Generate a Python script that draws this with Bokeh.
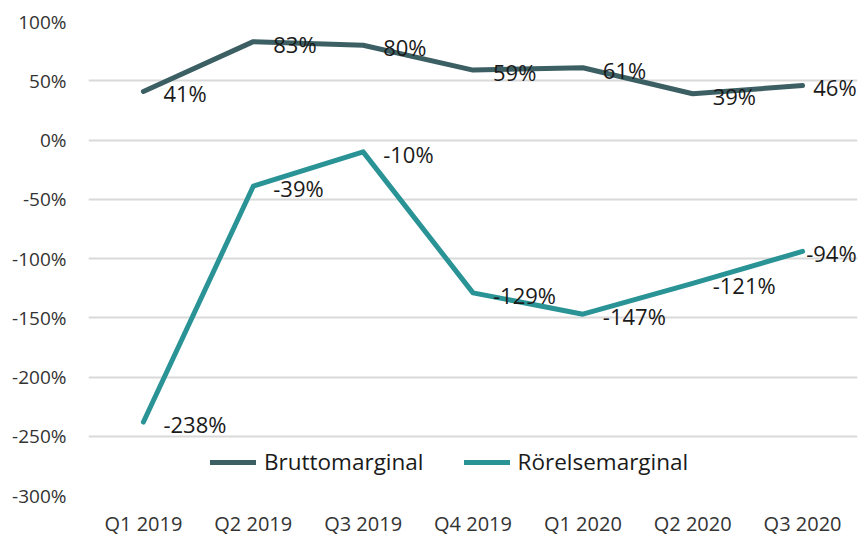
from bokeh.plotting import figure
from bokeh.models import (ColumnDataSource, Range1d, FactorRange, LabelSet,
                          Legend, LegendItem, FixedTicker, CustomJSTickFormatter)
from bokeh.core.properties import value
from bokeh.embed import file_html
from bokeh.resources import INLINE

quarters = ["Q1 2019", "Q2 2019", "Q3 2019", "Q4 2019", "Q1 2020", "Q2 2020", "Q3 2020"]
brutto = [41, 83, 80, 59, 61, 39, 46]
rorelse = [-238, -39, -10, -129, -147, -121, -94]
y_ticks = [100, 50, 0, -50, -100, -150, -200, -250, -300]

FONT = "Open Sans"
C_BRUTTO = "#3C5F63"
C_ROR = "#2A9396"

p = figure(x_range=FactorRange(*quarters), y_range=Range1d(-300, 100),
           width=859, height=539, output_backend="svg", toolbar_location=None,
           min_border_left=88, min_border_right=2, min_border_top=21, min_border_bottom=41)
p.outline_line_color = None
p.background_fill_color = "white"
p.border_fill_color = "white"

rb = p.line(quarters, brutto, line_color=C_BRUTTO, line_width=5,
            line_cap="round", line_join="round")
rr = p.line(quarters, rorelse, line_color=C_ROR, line_width=5,
            line_cap="round", line_join="round")

# data labels: right of each point; the last column is pushed inside the chart edge
for series in (brutto, rorelse):
    inner = ColumnDataSource(dict(x=quarters[:-1], y=series[:-1],
                                  t=[f"{v}%" for v in series[:-1]]))
    last = ColumnDataSource(dict(x=quarters[-1:], y=series[-1:],
                                 t=[f"{v}%" for v in series[-1:]]))
    p.add_layout(LabelSet(x="x", y="y", text="t", source=inner, x_offset=20, y_offset=-2,
                          text_baseline="middle", text_align="left",
                          text_font=value(FONT), text_font_size="22px",
                          text_color="#1a1a1a"))
    p.add_layout(LabelSet(x="x", y="y", text="t", source=last, x_offset=54, y_offset=-2,
                          text_baseline="middle", text_align="right",
                          text_font=value(FONT), text_font_size="22px",
                          text_color="#1a1a1a"))

# axes
p.yaxis.ticker = FixedTicker(ticks=y_ticks)
p.yaxis.formatter = CustomJSTickFormatter(code="return tick + '%';")
for ax in (p.xaxis[0], p.yaxis[0]):
    ax.axis_line_color = None
    ax.major_tick_line_color = None
    ax.minor_tick_line_color = None
    ax.major_tick_out = 0
    ax.major_tick_in = 0
    ax.minor_tick_out = 0
    ax.minor_tick_in = 0
    ax.major_label_text_font = FONT
    ax.major_label_text_color = "#333333"
p.yaxis.major_label_text_font_size = "19px"
p.xaxis.major_label_text_font_size = "20px"
p.yaxis.major_label_standoff = 22
p.xaxis.major_label_standoff = 14

p.xgrid.grid_line_color = None
p.ygrid.ticker = FixedTicker(ticks=y_ticks)
p.ygrid.grid_line_color = "#d9d9d9"
p.ygrid.grid_line_width = 2

legend = Legend(items=[LegendItem(label="Bruttomarginal", renderers=[rb]),
                       LegendItem(label="Rörelsemarginal", renderers=[rr])],
                orientation="horizontal", location=(122, 18),
                background_fill_alpha=0, border_line_color=None,
                label_text_font=FONT, label_text_font_size="22.5px",
                label_text_color="#1a1a1a", glyph_width=46, glyph_height=26,
                label_height=26, label_standoff=8, spacing=40, padding=0, margin=0)
p.add_layout(legend, "center")

open("out.html", "w").write(file_html(p, INLINE))
